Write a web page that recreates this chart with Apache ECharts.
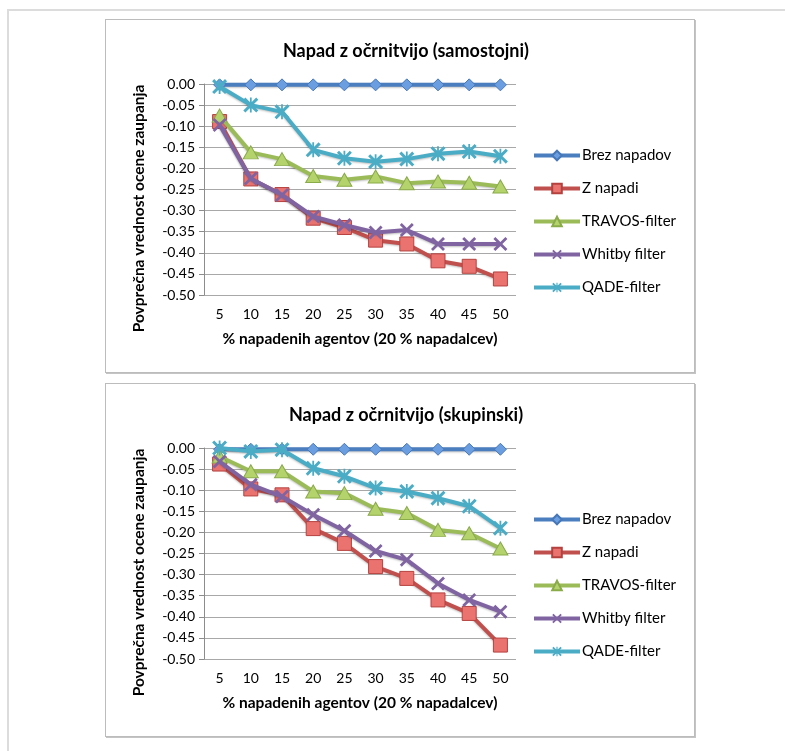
<!DOCTYPE html>
<html>
<head>
<meta charset="utf-8">
<script src="https://cdn.jsdelivr.net/npm/echarts@6/dist/echarts.min.js"></script>
<style>
  html, body { margin: 0; padding: 0; background: #fff; width: 785px; height: 751px; overflow: hidden; }
  #frame { position: absolute; left: 7px; top: 9px; width: 790px; height: 760px; border-top: 2px solid #dcdcdc; border-left: 2px solid #dcdcdc; }
  .box { position: absolute; left: 105px; width: 588px; height: 352px; border: 1px solid #bcbcbc; box-shadow: 1px 1px 0 #c4c4c4; background: #fff; }
  #c1 { top: 19px; }
  #c2 { top: 383px; }
</style>
</head>
<body>
<div id="frame"></div>
<div class="box" id="c1"></div>
<div class="box" id="c2"></div>
<script>
// ---- data ----
const categories = ['5', '10', '15', '20', '25', '30', '35', '40', '45', '50'];
const seriesNames = ['Brez napadov', 'Z napadi', 'TRAVOS-filter', 'Whitby filter', 'QADE-filter'];
const xAxisTitle = '% napadenih agentov (20 % napadalcev)';
const yAxisTitle = 'Povprečna vrednost ocene zaupanja';
const title1 = 'Napad z očrnitvijo (samostojni)';
const title2 = 'Napad z očrnitvijo (skupinski)';

// chart 1 (samostojni)
const s1_brez   = [-0.002, -0.002, -0.002, -0.002, -0.002, -0.002, -0.002, -0.002, -0.002, -0.002];
const s1_z      = [-0.089, -0.225, -0.262, -0.318, -0.340, -0.370, -0.379, -0.419, -0.432, -0.462];
const s1_travos = [-0.075, -0.162, -0.178, -0.218, -0.227, -0.219, -0.235, -0.231, -0.234, -0.243];
const s1_whitby = [-0.097, -0.224, -0.263, -0.314, -0.334, -0.352, -0.346, -0.379, -0.379, -0.379];
const s1_qade   = [-0.006, -0.050, -0.066, -0.156, -0.176, -0.184, -0.178, -0.165, -0.160, -0.171];

// chart 2 (skupinski)
const s2_brez   = [-0.003, -0.003, -0.003, -0.003, -0.003, -0.003, -0.003, -0.003, -0.003, -0.003];
const s2_z      = [-0.038, -0.097, -0.111, -0.191, -0.226, -0.281, -0.309, -0.360, -0.392, -0.467];
const s2_travos = [-0.020, -0.055, -0.055, -0.103, -0.107, -0.144, -0.154, -0.194, -0.202, -0.238];
const s2_whitby = [-0.032, -0.087, -0.115, -0.158, -0.196, -0.244, -0.265, -0.321, -0.360, -0.388];
const s2_qade   = [0.000, -0.008, -0.004, -0.048, -0.067, -0.095, -0.103, -0.119, -0.138, -0.190];

// ---- styling ----
const FONT = 'Lato';
const xSym = 'path://M0,1.4L1.4,0L5,3.6L8.6,0L10,1.4L6.4,5L10,8.6L8.6,10L5,6.4L1.4,10L0,8.6L3.6,5Z';
const starSym = 'path://M0,1.4L1.4,0L5,3.6L8.6,0L10,1.4L6.4,5L10,8.6L8.6,10L5,6.4L1.4,10L0,8.6L3.6,5Z M4.4,0L5.6,0L5.6,10L4.4,10Z';

const styles = [
  { line: '#4a7ebf', symbol: 'diamond', size: [12, 12], fill: '#6a9ee0', border: '#4677b8' },
  { line: '#c0504d', symbol: 'rect', size: [14, 14], fill: '#ea7370', border: '#b5413e' },
  { line: '#9bbb59', symbol: 'triangle', size: [15, 13], fill: '#b4d36c', border: '#8aab49' },
  { line: '#8064a2', symbol: xSym, size: [14, 14], fill: '#8064a2', border: null },
  { line: '#4bacc6', symbol: starSym, size: [15, 15], fill: '#4bacc6', border: null }
];

function buildSeries(datas) {
  return datas.map((d, i) => {
    const st = styles[i];
    return {
      name: seriesNames[i],
      type: 'line',
      data: d,
      symbol: st.symbol,
      symbolSize: st.size,
      showAllSymbol: true,
      z: 2 + i,
      lineStyle: { color: st.line, width: 4, shadowColor: 'rgba(0,0,0,0.25)', shadowBlur: 2, shadowOffsetY: 1 },
      itemStyle: st.border
        ? { color: st.fill, borderColor: st.border, borderWidth: 1 }
        : { color: st.fill, borderWidth: 0 },
      emphasis: { disabled: true },
      animation: false
    };
  });
}

function buildOption(titleText, datas) {
  return {
    animation: false,
    textStyle: { fontFamily: FONT },
    title: {
      text: titleText,
      left: 295,
      textAlign: 'center',
      top: 17,
      textStyle: { fontFamily: FONT, fontWeight: 'bold', fontSize: 18, color: '#000' }
    },
    legend: {
      orient: 'vertical',
      left: 421,
      top: 123,
      itemWidth: 46,
      itemHeight: 12,
      itemGap: 18,
      lineStyle: { width: 4 },
      textStyle: { fontFamily: FONT, fontSize: 15, color: '#000', padding: [0, 0, 0, -3] },
      data: seriesNames
    },
    grid: { left: 98, top: 64, width: 312, height: 211, containLabel: false },
    xAxis: {
      type: 'category',
      data: categories,
      boundaryGap: true,
      axisLine: { show: false, onZero: false },
      axisTick: { show: false },
      axisLabel: { margin: 12, fontFamily: FONT, fontSize: 14, color: '#000' },
      name: xAxisTitle,
      nameLocation: 'middle',
      nameGap: 36,
      nameTextStyle: { fontFamily: FONT, fontWeight: 'bold', fontSize: 15.5, color: '#000' }
    },
    yAxis: {
      type: 'value',
      min: -0.5,
      max: 0,
      interval: 0.05,
      axisLine: { show: true, lineStyle: { color: '#8c8c8c', width: 1 } },
      axisTick: { show: true, length: 5, lineStyle: { color: '#8c8c8c' } },
      splitLine: { show: true, lineStyle: { color: '#a8a8a8', width: 1 } },
      axisLabel: {
        margin: 9,
        fontFamily: FONT,
        fontSize: 14,
        color: '#000',
        formatter: v => (Math.abs(v) < 1e-9 ? 0 : v).toFixed(2)
      },
      name: yAxisTitle,
      nameLocation: 'middle',
      nameGap: 57,
      nameTextStyle: { fontFamily: FONT, fontWeight: 'bold', fontSize: 15.5, color: '#000', padding: [0, 38, 0, 0] }
    },
    series: buildSeries(datas)
  };
}

const chart1 = echarts.init(document.getElementById('c1'), null, { renderer: 'canvas' });
chart1.setOption(buildOption(title1, [s1_brez, s1_z, s1_travos, s1_whitby, s1_qade]));
const chart2 = echarts.init(document.getElementById('c2'), null, { renderer: 'canvas' });
chart2.setOption(buildOption(title2, [s2_brez, s2_z, s2_travos, s2_whitby, s2_qade]));
</script>
</body>
</html>
